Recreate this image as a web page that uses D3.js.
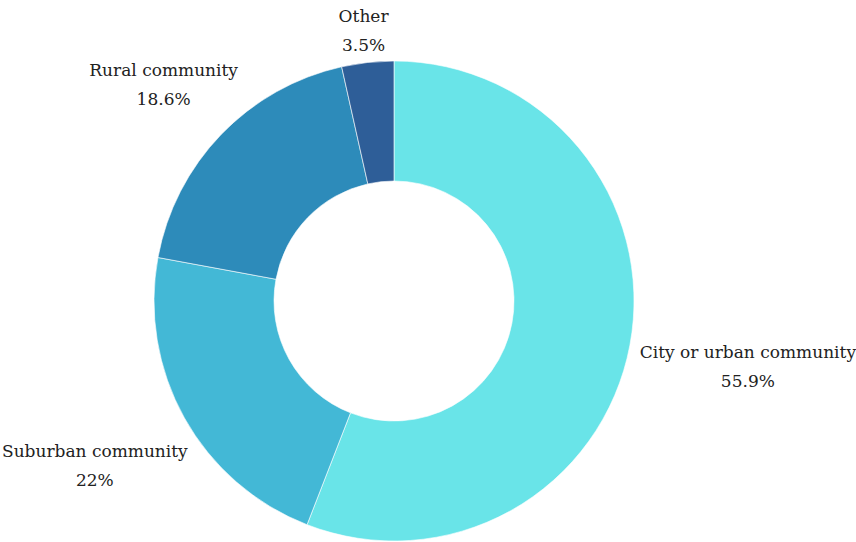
<!DOCTYPE html>
<html>
<head>
<meta charset="utf-8">
<script src="https://cdn.jsdelivr.net/npm/d3@7"></script>
<style>
  html, body { margin: 0; padding: 0; background: #fff; }
  svg { display: block; }
  text { font-family: "DejaVu Serif", "Liberation Serif", serif; fill: #222; }
</style>
</head>
<body>
<svg id="chart" width="856" height="542"></svg>
<script>
// Community type shares (percent)
const categories = ["City or urban community", "Suburban community", "Rural community", "Other"];
const values = [55.9, 22, 18.6, 3.5];
const valueLabels = ["55.9%", "22%", "18.6%", "3.5%"];
const colors = ["#69e4e8", "#43b8d6", "#2d8bba", "#2e5e98"];

const width = 856, height = 542;
const cx = 394, cy = 301;
const outerR = 240, innerR = 120;

const svg = d3.select("#chart");
const g = svg.append("g").attr("transform", `translate(${cx},${cy})`);

const pie = d3.pie().sort(null).value(d => d.value);
const arcs = pie(categories.map((c, i) => ({ name: c, value: values[i], label: valueLabels[i], color: colors[i] })));

const arc = d3.arc().innerRadius(innerR).outerRadius(outerR);

g.selectAll("path.slice")
  .data(arcs)
  .enter().append("path")
  .attr("class", "slice")
  .attr("d", arc)
  .attr("fill", d => d.data.color)
  .attr("stroke", "#ffffff")
  .attr("stroke-width", 0.6);

// Labels: anchored outside the ring along each slice's mid-angle
const labelR = 250;
const lineGap = 29;
// fine adjustments of label blocks (dx, dy of the first baseline)
const labelNudge = {
  "City or urban community": [0, 11],
  "Suburban community": [12, 34],
  "Rural community": [24, -52],
  "Other": [-3, -31]
};

arcs.forEach(d => {
  const a = (d.startAngle + d.endAngle) / 2;
  const px = labelR * Math.sin(a);
  const py = -labelR * Math.cos(a);
  const lg = g.append("g");
  const t1 = lg.append("text").attr("text-anchor", "middle").attr("font-size", 17).text(d.data.name);
  const t2 = lg.append("text").attr("text-anchor", "middle").attr("font-size", 17).attr("y", lineGap).text(d.data.label);
  const hw = Math.max(t1.node().getComputedTextLength(), t2.node().getComputedTextLength()) / 2;
  const s = Math.sin(a);
  const side = s > 0.3 ? 1 : (s < -0.3 ? -1 : 0);
  const n = labelNudge[d.data.name] || [0, 0];
  lg.attr("transform", `translate(${px + side * hw + n[0]},${py + n[1]})`);
});
</script>
</body>
</html>
